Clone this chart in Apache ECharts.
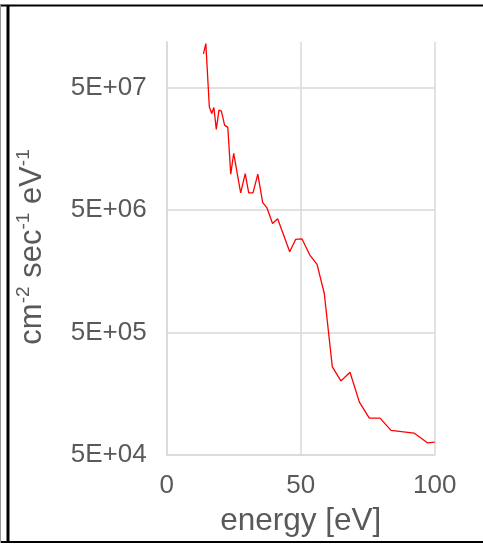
<!DOCTYPE html>
<html>
<head>
<meta charset="utf-8">
<script src="https://cdn.jsdelivr.net/npm/echarts@6/dist/echarts.min.js"></script>
<style>
html,body{margin:0;padding:0;background:#fff;}
#chart{width:483px;height:544px;}
</style>
</head>
<body>
<div id="chart"></div>
<script>
// Data
const energy = [13.7,14.6,15.9,16.8,17.6,18.5,19.5,20.4,21.6,22.8,23.9,25.0,27.6,29.3,30.6,32.2,34.0,35.8,37.4,39.5,41.4,45.9,48.1,50.5,53.4,56.1,58.8,61.8,65.0,68.4,71.9,75.6,79.6,83.7,92.3,97.4,100];
const flux = [9.4e7,1.14e8,3.47e7,3.06e7,3.43e7,2.27e7,3.26e7,3.2e7,2.46e7,2.36e7,9.8e6,1.45e7,6.9e6,9.9e6,6.9e6,6.9e6,9.8e6,5.76e6,5.2e6,3.88e6,4.23e6,2.28e6,2.87e6,2.9e6,2.14e6,1.8e6,1.04e6,2.62e5,2.01e5,2.37e5,1.35e5,1.0e5,1.0e5,7.95e4,7.55e4,6.27e4,6.38e4];
const xTicks = [0, 50, 100];
const yTickValues = [5e4, 5e5, 5e6, 5e7];
const yTickLabels = ['5E+04', '5E+05', '5E+06', '5E+07'];
const xTitle = 'energy [eV]';

const chart = echarts.init(document.getElementById('chart'), null, {renderer: 'canvas'});
const textColor = '#595959';
const gridColor = '#d9d9d9';
const font = 'Liberation Sans, Arial, sans-serif';

const option = {
  animation: false,
  backgroundColor: '#fff',
  grid: {left: 166.7, right: 48.3, top: 41.7, bottom: 89, containLabel: false},
  xAxis: {
    type: 'value', min: 0, max: 100, interval: 50,
    axisLine: {show: true, lineStyle: {color: gridColor, width: 1.5}},
    axisTick: {show: false},
    splitLine: {show: true, lineStyle: {color: gridColor, width: 1.5}},
    axisLabel: {color: textColor, fontSize: 26, fontFamily: font, margin: 18,
      customValues: xTicks}
  },
  yAxis: {
    type: 'log', logBase: 10, min: 5e4, max: 1.18e8,
    axisLine: {show: true, lineStyle: {color: gridColor, width: 1.5}},
    axisTick: {show: false, customValues: yTickValues},
    splitLine: {show: true, lineStyle: {color: gridColor, width: 1.5}},
    axisLabel: {color: textColor, fontSize: 26, fontFamily: font, margin: 20,
      customValues: yTickValues,
      formatter: function (v) {
        let best = 0, bd = Infinity;
        yTickValues.forEach((t, i) => { const d = Math.abs(Math.log10(t) - Math.log10(v)); if (d < bd) { bd = d; best = i; } });
        return yTickLabels[best];
      }}
  },
  series: [{
    type: 'line',
    data: energy.map((e, i) => [e, flux[i]]),
    showSymbol: false,
    lineStyle: {color: '#ff0000', width: 1.3},
    itemStyle: {color: '#ff0000'}
  }],
  graphic: [
    {type: 'line', shape: {x1: 0, y1: 5.5, x2: 483, y2: 5.5}, style: {stroke: '#000', lineWidth: 2}},
    {type: 'line', shape: {x1: 8, y1: 5, x2: 8, y2: 543}, style: {stroke: '#000', lineWidth: 3}},
    {type: 'line', shape: {x1: 0, y1: 542, x2: 483, y2: 542}, style: {stroke: '#000', lineWidth: 2}},
    {type: 'line', shape: {x1: 0.5, y1: 5, x2: 0.5, y2: 543}, style: {stroke: '#999', lineWidth: 1}},
    {
      type: 'text', x: 300.7, y: 521,
      style: {text: xTitle, fill: textColor, font: '31.5px ' + font, textAlign: 'center', textVerticalAlign: 'middle'}
    },
    {
      type: 'text', x: 32, y: 247, rotation: Math.PI / 2,
      style: {
        text: 'cm{s|-2} sec{s|-1} eV{s|-1}',
        fill: textColor, fontSize: 31, fontFamily: font, lineHeight: 36,
        align: 'center', verticalAlign: 'middle',
        rich: {s: {fontSize: 19, fontFamily: font, fill: textColor, verticalAlign: 'top', lineHeight: 36, padding: [0, 0, 0, 0]}}
      }
    }
  ]
};
chart.setOption(option);
</script>
</body>
</html>
